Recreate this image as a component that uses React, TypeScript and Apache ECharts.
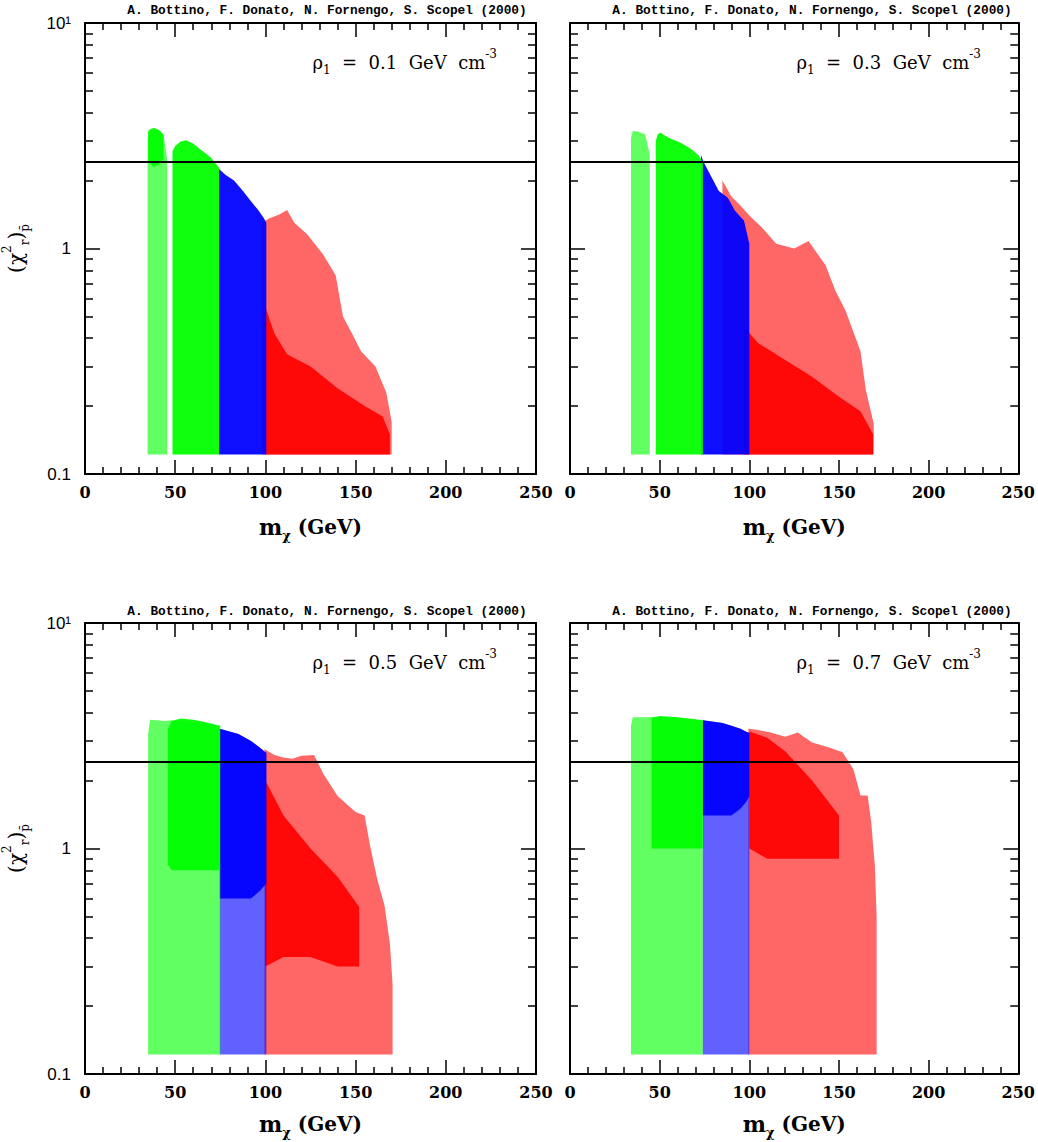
import React, { useEffect, useRef } from "react";
import * as echarts from "echarts";

// ---------- data ----------
const massTicks = [0, 50, 100, 150, 200, 250];
const chiMajorTicks = [0.1, 1, 10];
const chiMinorTicks = [0.2, 0.3, 0.4, 0.5, 0.6, 0.7, 0.8, 0.9, 2, 3, 4, 5, 6, 7, 8, 9];
const chiLimit = 2.42;
const rhoValues = ["0.1", "0.3", "0.5", "0.7"];
const authors = "A. Bottino, F. Donato, N. Fornengo, S. Scopel (2000)";
const FL = 0.122; // lower edge of the point cloud

// rows: [mass (GeV), upper chi, lower chi]
// panel 1 (rho = 0.1)
const p1RedSparse = [[98, 1.3, FL], [102, 1.36, FL], [108, 1.42, FL], [112, 1.48, FL], [116, 1.3, FL], [123, 1.16, FL], [132, 0.94, FL], [139, 0.76, FL], [143, 0.5, FL], [148, 0.42, FL], [153, 0.35, FL], [161, 0.3, FL], [167, 0.23, FL], [170, 0.17, FL]];
const p1RedDense = [[100, 0.55, FL], [105, 0.42, FL], [112, 0.34, FL], [125, 0.3, FL], [140, 0.24, FL], [155, 0.2, FL], [165, 0.18, FL], [169, 0.15, FL]];
const p1BlueDense = [[74.3, 2.25, FL], [78, 2.12, FL], [82.6, 2.0, FL], [87, 1.82, FL], [91.8, 1.63, FL], [96, 1.48, FL], [99, 1.37, FL], [100.5, 1.3, FL]];
const p1GreenSparse = [[34.7, 3.0, FL], [35.5, 3.38, FL], [38, 3.42, FL], [41, 3.35, FL], [43.5, 3.2, FL], [45.5, 2.5, FL]];
const p1GreenStripTop = [[35, 3.3, 2.45], [38, 3.42, 2.3], [41, 3.35, 2.35], [43.5, 3.2, 2.5]];
const p1GreenDense = [[48.5, 2.7, FL], [50, 2.85, FL], [53, 2.98, FL], [56, 3.02, FL], [60, 2.92, FL], [64, 2.75, FL], [67, 2.64, FL], [70, 2.52, FL], [73.4, 2.33, FL], [74.3, 2.28, FL]];

// panel 2 (rho = 0.3)
const p2RedSparse = [[85, 2.0, FL], [90, 1.7, FL], [95, 1.55, FL], [100, 1.4, FL], [107, 1.24, FL], [115, 1.05, FL], [125, 1.0, FL], [133, 1.08, FL], [142.6, 0.84, FL], [148, 0.65, FL], [153.7, 0.53, FL], [162, 0.35, FL], [165, 0.235, FL], [169.4, 0.167, FL]];
const p2RedDense = [[97, 0.45, FL], [105, 0.38, FL], [120, 0.32, FL], [135, 0.27, FL], [150, 0.22, FL], [162, 0.19, FL], [169, 0.15, FL]];
const p2BlueDense = [[73, 2.6, FL], [74.5, 2.42, FL], [78, 2.14, FL], [83, 1.8, FL], [88, 1.68, FL], [92, 1.47, FL], [97, 1.33, FL], [100, 1.05, FL]];
const p2GreenSparse = [[34, 3.1, FL], [35, 3.32, FL], [38, 3.3, FL], [42, 3.2, FL], [44.5, 2.6, FL]];
const p2GreenDense = [[47.8, 3.0, FL], [49, 3.22, FL], [50.5, 3.26, FL], [55, 3.1, FL], [62, 2.94, FL], [68, 2.75, FL], [72, 2.57, FL], [74.1, 2.4, FL]];

// panel 3 (rho = 0.5)
const p3RedSparse = [[99.5, 2.76, FL], [100, 2.74, FL], [105, 2.6, FL], [110, 2.53, FL], [115, 2.5, FL], [120, 2.58, FL], [127, 2.6, FL], [132, 2.15, FL], [140, 1.71, FL], [150, 1.45, FL], [155, 1.4, FL], [158, 1.03, FL], [162, 0.73, FL], [166, 0.56, FL], [169, 0.38, FL], [170.5, 0.25, FL]];
const p3RedDense = [[100, 2.0, 0.3], [110, 1.4, 0.33], [125, 1.0, 0.33], [140, 0.75, 0.3], [152, 0.55, 0.3]];
const p3BlueSparse = [[74.7, 3.4, FL], [80, 3.3, FL], [85, 3.22, FL], [92, 3.0, FL], [97, 2.8, FL], [100.5, 2.65, FL]];
const p3BlueDense = [[74.7, 3.4, 0.6], [80, 3.3, 0.6], [85, 3.22, 0.6], [92, 3.0, 0.6], [97, 2.8, 0.65], [100.5, 2.65, 0.7]];
const p3GreenSparse = [[35, 3.2, FL], [36, 3.72, FL], [40, 3.7, FL], [44, 3.68, FL], [48, 3.7, FL], [75, 3.5, FL]];
const p3GreenDense = [[46, 3.4, 0.85], [48, 3.68, 0.8], [53, 3.77, 0.8], [60, 3.72, 0.8], [65, 3.66, 0.8], [70, 3.58, 0.8], [74.7, 3.5, 0.8]];

// panel 4 (rho = 0.7)
const p4RedSparse = [[99.5, 3.4, FL], [100, 3.4, FL], [105, 3.35, FL], [112, 3.27, FL], [120, 3.13, FL], [127, 3.27, FL], [135, 2.95, FL], [145, 2.8, FL], [152, 2.67, FL], [158, 2.25, FL], [162, 1.72, FL], [166, 1.72, FL], [168, 1.3, FL], [170, 0.84, FL], [171, 0.5, FL]];
const p4RedDense = [[100, 3.3, 1.0], [110, 3.1, 0.9], [120, 2.7, 0.9], [135, 2.0, 0.9], [150, 1.4, 0.9]];
const p4BlueSparse = [[74, 3.7, FL], [80, 3.65, FL], [85, 3.6, FL], [90, 3.5, FL], [95, 3.4, FL], [98, 3.3, FL], [100, 3.25, FL]];
const p4BlueDense = [[74, 3.7, 1.4], [80, 3.65, 1.4], [85, 3.6, 1.4], [90, 3.5, 1.4], [95, 3.4, 1.5], [98, 3.3, 1.6], [100, 3.25, 1.7]];
const p4GreenSparse = [[34, 3.5, FL], [35, 3.82, FL], [40, 3.82, FL], [46, 3.83, FL], [74, 3.7, FL]];
const p4GreenDense = [[45.5, 3.8, 1.0], [50, 3.87, 1.0], [60, 3.82, 1.0], [70, 3.74, 1.0], [74, 3.7, 1.0]];

// ---------- styling / layout ----------
const regionStyle: Record<string, { fill: string; opacity: number }> = {
  redSparse: { fill: "#ff0000", opacity: 0.6 },
  redDense: { fill: "#ff0000", opacity: 0.92 },
  blueSparse: { fill: "#0000ff", opacity: 0.62 },
  blueDense: { fill: "#0000ff", opacity: 0.94 },
  greenSparse: { fill: "#00ff00", opacity: 0.62 },
  greenDense: { fill: "#00ff00", opacity: 0.94 },
};

const panelRegions = [
  [
    { rows: p1RedSparse, kind: "redSparse" },
    { rows: p1RedDense, kind: "redDense" },
    { rows: p1BlueDense, kind: "blueDense" },
    { rows: p1GreenSparse, kind: "greenSparse" },
    { rows: p1GreenStripTop, kind: "greenDense" },
    { rows: p1GreenDense, kind: "greenDense" },
  ],
  [
    { rows: p2RedSparse, kind: "redSparse" },
    { rows: p2RedDense, kind: "redDense" },
    { rows: p2BlueDense, kind: "blueDense" },
    { rows: p2GreenSparse, kind: "greenSparse" },
    { rows: p2GreenDense, kind: "greenDense" },
  ],
  [
    { rows: p3RedSparse, kind: "redSparse" },
    { rows: p3RedDense, kind: "redDense" },
    { rows: p3BlueSparse, kind: "blueSparse" },
    { rows: p3BlueDense, kind: "blueDense" },
    { rows: p3GreenSparse, kind: "greenSparse" },
    { rows: p3GreenDense, kind: "greenDense" },
  ],
  [
    { rows: p4RedSparse, kind: "redSparse" },
    { rows: p4RedDense, kind: "redDense" },
    { rows: p4BlueSparse, kind: "blueSparse" },
    { rows: p4BlueDense, kind: "blueDense" },
    { rows: p4GreenSparse, kind: "greenSparse" },
    { rows: p4GreenDense, kind: "greenDense" },
  ],
];

const grids = [
  { left: 84, top: 23, width: 452, height: 451 },
  { left: 570, top: 23, width: 450, height: 451 },
  { left: 84, top: 623, width: 452, height: 451 },
  { left: 570, top: 623, width: 450, height: 451 },
];

const black = "#000";
const serif = "DejaVu Serif";

function buildOption() {
  const xAxis: any[] = [];
  const yAxis: any[] = [];
  const series: any[] = [];
  const graphic: any[] = [];

  grids.forEach((g, p) => {
    const isBottomRow = p >= 2;
    const baseX = {
      type: "value",
      gridIndex: p,
      min: massTicks[0],
      max: massTicks[massTicks.length - 1],
      interval: 50,
      splitLine: { show: false },
      minorSplitLine: { show: false },
      axisLine: { show: true, onZero: false, lineStyle: { color: black, width: 2 } },
      axisTick: { show: true, inside: true, length: 14, lineStyle: { color: black, width: 1.5 } },
      minorTick: { show: true, splitNumber: 5, length: 7, lineStyle: { color: black, width: 1.5 } },
    };
    xAxis.push({
      ...baseX,
      position: "bottom",
      axisLabel: {
        show: true,
        color: black,
        fontFamily: serif,
        fontWeight: "bold",
        fontSize: 16,
        margin: 10,
      },
      name: "{m|m}{s|χ}{g| (GeV)}",
      nameLocation: "middle",
      nameGap: isBottomRow ? 35 : 38,
      nameTextStyle: {
        color: black,
        rich: {
          m: { fontFamily: serif, fontWeight: "bold", fontSize: 22, lineHeight: 30, color: black },
          s: { fontFamily: serif, fontWeight: "bold", fontSize: 13, lineHeight: 13, verticalAlign: "bottom", color: black },
          g: { fontFamily: serif, fontWeight: "bold", fontSize: 20, lineHeight: 30, color: black },
        },
      },
    });
    xAxis.push({ ...baseX, position: "top", axisLabel: { show: false } });

    const baseY = {
      type: "log",
      logBase: 10,
      gridIndex: p,
      min: chiMajorTicks[0],
      max: chiMajorTicks[chiMajorTicks.length - 1],
      splitLine: { show: false },
      minorTick: { show: false },
    };
    const showLabels = p % 2 === 0;
    yAxis.push({
      ...baseY,
      position: "left",
      axisLine: { show: true, lineStyle: { color: black, width: 2 } },
      axisTick: { show: true, inside: true, length: 15, customValues: chiMajorTicks, lineStyle: { color: black, width: 1.5 } },
      axisLabel: {
        show: showLabels,
        customValues: chiMajorTicks,
        color: black,
        fontFamily: "Liberation Sans",
        fontSize: 17,
        margin: 14,
        formatter: (v: number) => (v >= 9.99 ? "10¹" : v >= 0.99 ? "1" : "0.1"),
      },
      name: showLabels ? "{a|(χ}{sp|2}{sb|r}{a|)}{sb|p̄}" : "",
      nameLocation: "middle",
      nameRotate: 90,
      nameGap: 54,
      nameTextStyle: {
        color: black,
        rich: {
          a: { fontFamily: serif, fontSize: 20, lineHeight: 30, color: black },
          sp: { fontFamily: serif, fontSize: 12, lineHeight: 12, verticalAlign: "top", color: black },
          sb: { fontFamily: serif, fontSize: 12, lineHeight: 12, verticalAlign: "bottom", color: black },
        },
      },
    });
    yAxis.push({
      ...baseY,
      position: "left",
      axisLine: { show: false },
      axisTick: { show: true, inside: true, length: 8, customValues: chiMinorTicks, lineStyle: { color: black, width: 1.5 } },
      axisLabel: { show: false },
    });
    yAxis.push({
      ...baseY,
      position: "right",
      axisLine: { show: true, lineStyle: { color: black, width: 2 } },
      axisTick: { show: true, inside: true, length: 15, customValues: chiMajorTicks, lineStyle: { color: black, width: 1.5 } },
      axisLabel: { show: false },
    });
    yAxis.push({
      ...baseY,
      position: "right",
      axisLine: { show: false },
      axisTick: { show: true, inside: true, length: 8, customValues: chiMinorTicks, lineStyle: { color: black, width: 1.5 } },
      axisLabel: { show: false },
    });

    const regs = panelRegions[p];
    series.push({
      type: "custom",
      xAxisIndex: 2 * p,
      yAxisIndex: 4 * p,
      silent: true,
      clip: true,
      z: 1,
      data: regs.map((r) => [r.rows[0][0], r.rows[0][1]]),
      renderItem: (params: any, api: any) => {
        const reg = regs[params.dataIndex];
        const top = reg.rows.map((r) => api.coord([r[0], r[1]]));
        const bottom = reg.rows
          .slice()
          .reverse()
          .map((r) => api.coord([r[0], r[2]]));
        const st = regionStyle[reg.kind];
        return {
          type: "polygon",
          shape: { points: top.concat(bottom) },
          style: { fill: st.fill, opacity: st.opacity, stroke: "none" },
        };
      },
    });
    series.push({
      type: "line",
      xAxisIndex: 2 * p,
      yAxisIndex: 4 * p,
      silent: true,
      z: 3,
      symbol: "none",
      data: [
        [massTicks[0], chiLimit],
        [massTicks[massTicks.length - 1], chiLimit],
      ],
      lineStyle: { color: black, width: 2 },
    });

    const right = g.left + g.width;
    const centre = g.left + g.width / 2;
    graphic.push({
      type: "text",
      x: centre + 17,
      y: g.top - (isBottomRow ? 12 : 13),
      silent: true,
      style: {
        text: authors,
        fontFamily: "Liberation Mono",
        fontWeight: "bold",
        fontSize: 12.8,
        fill: black,
        textAlign: "center",
        textVerticalAlign: "middle",
      },
    });
    graphic.push({
      type: "text",
      x: right - 39,
      y: g.top + 39,
      silent: true,
      style: {
        text: `{r|ρ}{s|1}{t|  =  ${rhoValues[p]}  GeV  cm}{e|-3}`,
        fill: black,
        textAlign: "right",
        textVerticalAlign: "middle",
        rich: {
          r: { fontFamily: serif, fontSize: 18, lineHeight: 28, fill: black },
          s: { fontFamily: serif, fontSize: 12, lineHeight: 12, verticalAlign: "bottom", fill: black },
          t: { fontFamily: serif, fontSize: 18, lineHeight: 28, fill: black },
          e: { fontFamily: serif, fontSize: 12, lineHeight: 12, verticalAlign: "top", fill: black },
        },
      },
    });
  });

  return {
    animation: false,
    backgroundColor: "#fff",
    grid: grids.map((g) => ({ ...g, containLabel: false })),
    xAxis,
    yAxis,
    series,
    graphic,
  };
}

export default function App() {
  const ref = useRef<HTMLDivElement>(null);
  useEffect(() => {
    document.body.style.margin = "0";
    if (!ref.current) return;
    const chart = echarts.init(ref.current, undefined, { renderer: "svg" });
    chart.setOption(buildOption() as any);
    return () => chart.dispose();
  }, []);
  return <div ref={ref} style={{ width: 1038, height: 1142 }} />;
}
